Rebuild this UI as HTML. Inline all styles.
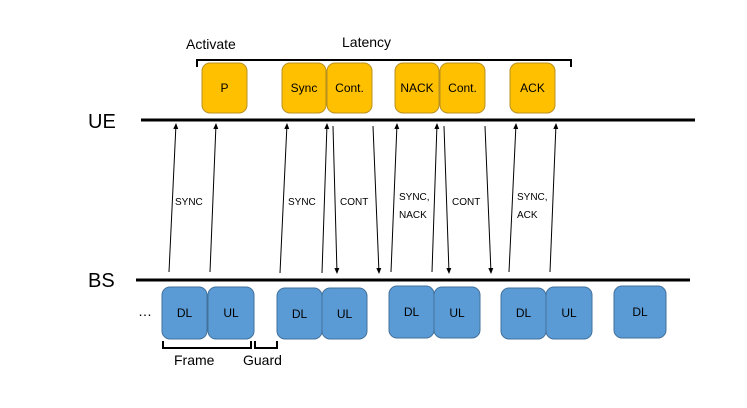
<!DOCTYPE html>
<html><head><meta charset="utf-8"><style>
body{margin:0;background:#fff}
svg{display:block;font-family:"Liberation Sans",sans-serif}
</style></head><body>
<svg width="747" height="408" viewBox="0 0 747 408" xmlns="http://www.w3.org/2000/svg">
<defs><marker id="a" markerWidth="6" markerHeight="6" refX="5" refY="3" orient="auto" markerUnits="userSpaceOnUse"><path d="M0,0.5 L6,3 L0,5.5z" fill="#000"/></marker></defs>
<text x="186" y="49" font-size="14">Activate</text>
<text x="342" y="47" font-size="14">Latency</text>
<path d="M197,67 V60 H571 V67" fill="none" stroke="#000" stroke-width="2"/>
<g fill="#FFC000" stroke="#B89020" stroke-width="1">
<rect x="202" y="63" width="45" height="50" rx="8"/>
<rect x="282" y="63" width="44" height="50" rx="8"/>
<rect x="327" y="63" width="45" height="50" rx="8"/>
<rect x="395" y="63" width="44" height="50" rx="8"/>
<rect x="440" y="63" width="45" height="50" rx="8"/>
<rect x="510" y="63" width="45" height="50" rx="8"/>
</g>
<g font-size="12" text-anchor="middle" fill="#000">
<text x="224.5" y="92">P</text><text x="304" y="92">Sync</text><text x="349.5" y="92">Cont.</text>
<text x="417" y="92">NACK</text><text x="462.5" y="92">Cont.</text><text x="532.5" y="92">ACK</text>
</g>
<text x="88" y="128" font-size="20">UE</text>
<text x="88" y="287" font-size="20">BS</text>
<line x1="141" y1="120" x2="695" y2="120" stroke="#000" stroke-width="3"/>
<line x1="136" y1="280" x2="690" y2="280" stroke="#000" stroke-width="3"/>
<g stroke="#000" stroke-width="1" marker-end="url(#a)">
<line x1="169" y1="272" x2="176" y2="124"/>
<line x1="210" y1="272" x2="216" y2="124"/>
<line x1="280" y1="273" x2="287" y2="124"/>
<line x1="322" y1="273" x2="327" y2="124"/>
<line x1="333" y1="126" x2="337" y2="273"/>
<line x1="373" y1="126" x2="379" y2="273"/>
<line x1="391" y1="272" x2="397" y2="124"/>
<line x1="432" y1="272" x2="437" y2="124"/>
<line x1="444" y1="126" x2="449" y2="273"/>
<line x1="485" y1="126" x2="491" y2="273"/>
<line x1="509" y1="272" x2="516" y2="124"/>
<line x1="550" y1="272" x2="556" y2="124"/>
</g>
<g font-size="10" fill="#000">
<text x="175" y="205">SYNC</text><text x="288" y="205">SYNC</text><text x="340" y="205">CONT</text>
<text x="399" y="200">SYNC,</text><text x="399" y="218">NACK</text><text x="452" y="205">CONT</text>
<text x="517" y="200">SYNC,</text><text x="517" y="218">ACK</text>
</g>
<g fill="#5B9BD5" stroke="#41719C" stroke-width="1">
<rect x="162" y="287" width="45" height="52" rx="8"/>
<rect x="208" y="287" width="46" height="52" rx="8"/>
<rect x="277" y="288" width="45" height="51" rx="8"/>
<rect x="322" y="288" width="45" height="51" rx="8"/>
<rect x="389" y="286" width="45" height="52" rx="8"/>
<rect x="434" y="287" width="46" height="51" rx="8"/>
<rect x="501" y="288" width="45" height="51" rx="8"/>
<rect x="546" y="287" width="46" height="52" rx="8"/>
<rect x="614" y="286" width="52" height="52" rx="8"/>
</g>
<g font-size="12" text-anchor="middle" fill="#000">
<text x="184.5" y="317">DL</text><text x="231" y="317">UL</text>
<text x="299.5" y="318">DL</text><text x="344.5" y="318">UL</text>
<text x="411.5" y="316">DL</text><text x="457" y="317">UL</text>
<text x="523.5" y="317">DL</text><text x="569" y="317">UL</text>
<text x="640" y="316">DL</text>
</g>
<text x="138" y="316" font-size="14">…</text>
<path d="M163,341 V348 H251 V341 M255,341 V348 H277 V341" fill="none" stroke="#000" stroke-width="2"/>
<text x="174" y="365" font-size="14">Frame</text>
<text x="243" y="365" font-size="14">Guard</text>
</svg>
</body></html>
